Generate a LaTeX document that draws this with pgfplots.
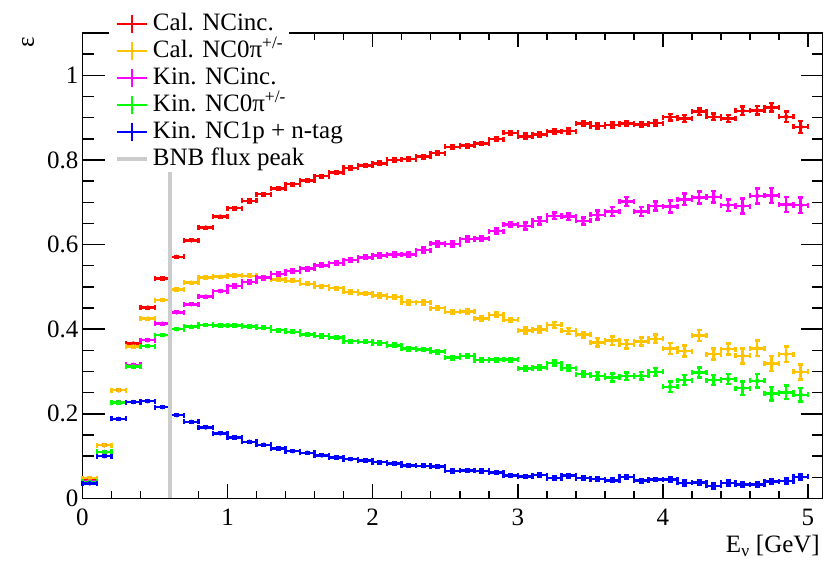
\documentclass[border=0pt]{standalone}
\usepackage{fontspec}
\setmainfont{Liberation Serif}
\usepackage{pgfplots}
\usepackage{pgfplotstable}
\pgfplotsset{compat=1.18}
\definecolor{cred}{RGB}{255,0,0}
\definecolor{cyel}{RGB}{255,195,0}
\definecolor{cmag}{RGB}{255,0,255}
\definecolor{cgrn}{RGB}{0,255,0}
\definecolor{cblu}{RGB}{0,0,255}
\definecolor{cgry}{RGB}{204,204,204}
\newcommand{\bigf}{\fontsize{25}{29}\selectfont\rmfamily}

\pgfplotstableread{
x y ey
0.05 0.047 0.002
0.15 0.126 0.002
0.25 0.256 0.002
0.35 0.366 0.002
0.45 0.451 0.002
0.55 0.520 0.002
0.65 0.571 0.002
0.75 0.610 0.002
0.85 0.640 0.002
0.95 0.666 0.002
1.05 0.686 0.003
1.15 0.703 0.003
1.25 0.719 0.003
1.35 0.732 0.003
1.45 0.743 0.003
1.55 0.752 0.003
1.65 0.762 0.003
1.75 0.770 0.003
1.85 0.781 0.003
1.95 0.787 0.003
2.05 0.792 0.004
2.15 0.800 0.004
2.25 0.802 0.004
2.35 0.808 0.004
2.45 0.816 0.004
2.55 0.831 0.004
2.65 0.834 0.004
2.75 0.839 0.004
2.85 0.849 0.004
2.95 0.864 0.004
3.05 0.856 0.006
3.15 0.860 0.006
3.25 0.867 0.006
3.35 0.868 0.006
3.45 0.886 0.006
3.55 0.880 0.006
3.65 0.883 0.006
3.75 0.886 0.006
3.85 0.884 0.006
3.95 0.887 0.006
4.05 0.901 0.008
4.15 0.898 0.008
4.25 0.914 0.008
4.35 0.902 0.008
4.45 0.898 0.008
4.55 0.916 0.010
4.65 0.917 0.010
4.75 0.924 0.010
4.85 0.902 0.012
4.95 0.878 0.014
}\calinc

\pgfplotstableread{
x y ey
0.05 0.048 0.002
0.15 0.126 0.002
0.25 0.256 0.002
0.35 0.359 0.002
0.45 0.425 0.002
0.55 0.469 0.002
0.65 0.494 0.002
0.75 0.510 0.002
0.85 0.522 0.002
0.95 0.524 0.002
1.05 0.527 0.003
1.15 0.526 0.003
1.25 0.522 0.003
1.35 0.518 0.003
1.45 0.514 0.003
1.55 0.507 0.003
1.65 0.502 0.003
1.75 0.497 0.003
1.85 0.488 0.003
1.95 0.485 0.003
2.05 0.480 0.005
2.15 0.476 0.005
2.25 0.464 0.005
2.35 0.464 0.005
2.45 0.450 0.005
2.55 0.441 0.005
2.65 0.442 0.005
2.75 0.425 0.005
2.85 0.434 0.005
2.95 0.422 0.005
3.05 0.397 0.007
3.15 0.399 0.007
3.25 0.410 0.007
3.35 0.396 0.007
3.45 0.387 0.007
3.55 0.369 0.010
3.65 0.373 0.010
3.75 0.365 0.010
3.85 0.371 0.010
3.95 0.377 0.010
4.05 0.355 0.013
4.15 0.348 0.013
4.25 0.385 0.013
4.35 0.341 0.013
4.45 0.353 0.013
4.55 0.337 0.018
4.65 0.355 0.018
4.75 0.319 0.018
4.85 0.341 0.018
4.95 0.299 0.018
}\calnc

\pgfplotstableread{
x y ey
0.05 0.040 0.002
0.15 0.110 0.002
0.25 0.228 0.002
0.35 0.316 0.002
0.45 0.374 0.002
0.55 0.413 0.002
0.65 0.440 0.002
0.75 0.459 0.002
0.85 0.477 0.002
0.95 0.490 0.002
1.05 0.502 0.004
1.15 0.512 0.004
1.25 0.522 0.004
1.35 0.531 0.004
1.45 0.537 0.004
1.55 0.543 0.004
1.65 0.551 0.004
1.75 0.556 0.004
1.85 0.563 0.004
1.95 0.570 0.004
2.05 0.574 0.006
2.15 0.577 0.006
2.25 0.577 0.006
2.35 0.587 0.006
2.45 0.602 0.006
2.55 0.601 0.006
2.65 0.613 0.006
2.75 0.614 0.006
2.85 0.632 0.006
2.95 0.647 0.006
3.05 0.644 0.008
3.15 0.656 0.008
3.25 0.668 0.008
3.35 0.666 0.008
3.45 0.656 0.008
3.55 0.670 0.011
3.65 0.678 0.011
3.75 0.702 0.011
3.85 0.678 0.011
3.95 0.691 0.011
4.05 0.690 0.014
4.15 0.707 0.014
4.25 0.711 0.014
4.35 0.713 0.014
4.45 0.693 0.014
4.55 0.691 0.018
4.65 0.715 0.018
4.75 0.716 0.018
4.85 0.695 0.018
4.95 0.693 0.018
}\kininc

\pgfplotstableread{
x y ey
0.05 0.039 0.002
0.15 0.110 0.002
0.25 0.227 0.002
0.35 0.312 0.002
0.45 0.360 0.002
0.55 0.386 0.002
0.65 0.400 0.002
0.75 0.406 0.002
0.85 0.410 0.002
0.95 0.409 0.002
1.05 0.409 0.003
1.15 0.407 0.003
1.25 0.403 0.003
1.35 0.398 0.003
1.45 0.394 0.003
1.55 0.387 0.003
1.65 0.384 0.003
1.75 0.380 0.003
1.85 0.372 0.003
1.95 0.370 0.003
2.05 0.367 0.004
2.15 0.362 0.004
2.25 0.354 0.004
2.35 0.352 0.004
2.45 0.347 0.004
2.55 0.333 0.004
2.65 0.337 0.004
2.75 0.327 0.004
2.85 0.328 0.004
2.95 0.328 0.004
3.05 0.307 0.006
3.15 0.310 0.006
3.25 0.320 0.006
3.35 0.308 0.006
3.45 0.294 0.006
3.55 0.290 0.009
3.65 0.286 0.009
3.75 0.289 0.009
3.85 0.290 0.009
3.95 0.299 0.009
4.05 0.264 0.012
4.15 0.280 0.012
4.25 0.298 0.012
4.35 0.280 0.012
4.45 0.282 0.012
4.55 0.261 0.016
4.65 0.278 0.016
4.75 0.248 0.016
4.85 0.251 0.016
4.95 0.245 0.016
}\kinnc

\pgfplotstableread{
x y ey
0.05 0.036 0.002
0.15 0.100 0.002
0.25 0.188 0.002
0.35 0.228 0.002
0.45 0.230 0.002
0.55 0.216 0.002
0.65 0.197 0.002
0.75 0.181 0.002
0.85 0.168 0.002
0.95 0.154 0.002
1.05 0.144 0.002
1.15 0.134 0.002
1.25 0.127 0.002
1.35 0.118 0.002
1.45 0.112 0.002
1.55 0.108 0.002
1.65 0.102 0.002
1.75 0.097 0.002
1.85 0.093 0.002
1.95 0.090 0.002
2.05 0.086 0.003
2.15 0.083 0.003
2.25 0.078 0.003
2.35 0.077 0.003
2.45 0.076 0.003
2.55 0.065 0.003
2.65 0.066 0.003
2.75 0.065 0.003
2.85 0.061 0.003
2.95 0.054 0.003
3.05 0.052 0.004
3.15 0.055 0.004
3.25 0.048 0.004
3.35 0.054 0.004
3.45 0.048 0.004
3.55 0.046 0.004
3.65 0.043 0.004
3.75 0.051 0.004
3.85 0.042 0.004
3.95 0.045 0.004
4.05 0.045 0.006
4.15 0.037 0.006
4.25 0.038 0.006
4.35 0.030 0.006
4.45 0.037 0.006
4.55 0.033 0.006
4.65 0.033 0.006
4.75 0.040 0.006
4.85 0.041 0.006
4.95 0.051 0.006
}\kinp

\pgfplotsset{
  rootbars/.style={
    color=#1, only marks, mark=none,
    legend image code/.code={
      \draw[line width=2.5pt] (0pt,0pt) -- (30pt,0pt);
      \draw[line width=2.5pt] (15pt,-9pt) -- (15pt,9pt);
    },
    /pgfplots/error bars/x dir=both,
    /pgfplots/error bars/x fixed=0.05,
    /pgfplots/error bars/y dir=both,
    /pgfplots/error bars/y explicit,
    /pgfplots/error bars/error bar style={line width=2.5pt, color=#1},
    /pgfplots/error bars/error mark options={rotate=90, mark size=2.5pt, line width=2.5pt, color=#1},
  }
}

\begin{document}
\bigf
\begin{tikzpicture}[font=\bigf]
\useasboundingbox (-82.5pt,-68.5pt) rectangle (747.5pt,498.5pt);
\begin{axis}[
  at={(0pt,0pt)}, anchor=south west,
  scale only axis, width=740pt, height=465.5pt,
  xmin=0, xmax=5.1, ymin=0, ymax=1.1,
  clip=false,
  xtick={0,1,2,3,4,5},
  ytick={0,0.2,0.4,0.6,0.8,1},
  minor xtick={0.2,0.4,0.6,0.8,1.2,1.4,1.6,1.8,2.2,2.4,2.6,2.8,3.2,3.4,3.6,3.8,4.2,4.4,4.6,4.8},
  minor ytick={0.05,0.1,0.15,0.25,0.3,0.35,0.45,0.5,0.55,0.65,0.7,0.75,0.85,0.9,0.95,1.05},
  tick align=inside,
  axis line style={line width=1.5pt, black},
  every tick/.style={line width=1.5pt, black},
  xtick style={/pgfplots/major tick length=14pt, /pgfplots/minor tick length=7pt},
  ytick style={/pgfplots/major tick length=22pt, /pgfplots/minor tick length=11pt},
  /pgf/number format/assume math mode=true,
  tick label style={font=\bigf},
  yticklabel style={inner sep=0pt, xshift=-4pt},
  xticklabel style={inner sep=0pt, yshift=-10pt},
  xlabel={E\textsubscript{ν} [GeV]},
  xlabel style={font=\bigf, at={(axis description cs:0.9966,-0.117)}, anchor=base east, inner sep=0pt},
  ylabel={ε},
  ylabel style={font=\bigf, at={(axis description cs:-0.0736,0.981)}, anchor=center, inner sep=0pt},
  legend cell align=left,
  legend style={draw=none, fill=none, at={(axis description cs:0.0439,1.044)}, anchor=north west,
    inner sep=0pt, outer sep=0pt, font=\bigf,
    row sep=4pt, column sep=4pt,
    nodes={inner sep=0pt, text height=18pt, text depth=5pt, font=\bigf}},
]
\fill[white] (axis cs:0.18,0.78) rectangle (axis cs:1.42,1.13);
\addplot[rootbars=cred] table[x=x, y=y, y error=ey] {\calinc};
\addlegendentry{Cal. NCinc.}
\addplot[rootbars=cyel] table[x=x, y=y, y error=ey] {\calnc};
\addlegendentry{Cal. NC0π\textsuperscript{+/-}}
\addplot[rootbars=cmag] table[x=x, y=y, y error=ey] {\kininc};
\addlegendentry{Kin. NCinc.}
\addplot[rootbars=cgrn] table[x=x, y=y, y error=ey] {\kinnc};
\addlegendentry{Kin. NC0π\textsuperscript{+/-}}
\addplot[rootbars=cblu] table[x=x, y=y, y error=ey] {\kinp};
\addlegendentry{Kin. NC1p + n-tag}
\addplot[color=cgry, line width=4pt, legend image code/.code={\draw[line width=4pt] (0pt,0pt) -- (30pt,0pt);}] coordinates {(0.6,0) (0.6,0.771)};
\addlegendentry{BNB flux peak}
\end{axis}
\end{tikzpicture}
\end{document}
